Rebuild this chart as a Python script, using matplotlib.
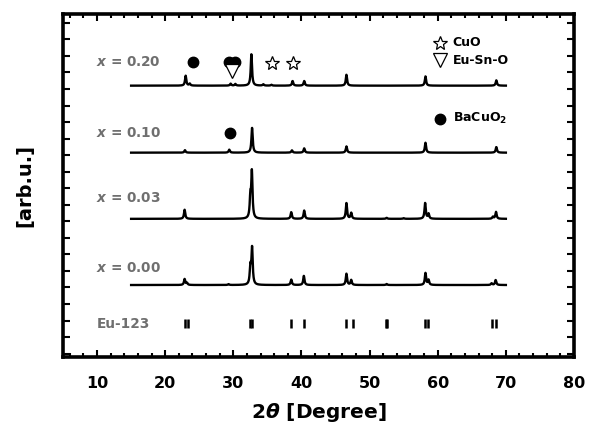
import numpy as np
import matplotlib
matplotlib.use("Agg")
import matplotlib.pyplot as plt
from matplotlib.ticker import MultipleLocator

plt.rcParams['font.family'] = ['DejaVu Sans']
plt.rcParams['font.weight'] = 'bold'
plt.rcParams['mathtext.fontset'] = 'custom'
plt.rcParams['mathtext.rm'] = 'DejaVu Sans:bold'
plt.rcParams['mathtext.it'] = 'DejaVu Sans:italic:bold'
plt.rcParams['mathtext.bf'] = 'DejaVu Sans:bold'

# ---- data ----
sample_labels = ["$x$ = 0.00", "$x$ = 0.03", "$x$ = 0.10", "$x$ = 0.20"]
baselines = [4.15, 8.15, 12.15, 16.2]
label_y = [5.2, 9.4, 13.35, 17.6]

peaks_000 = [22.85, 23.2, 29.3, 32.5, 32.75, 38.5, 40.35, 46.6, 47.3, 52.5, 58.2, 58.65, 67.9, 68.5]
heights_000 = [0.36, 0.12, 0.05, 1.03, 2.2, 0.33, 0.55, 0.68, 0.3, 0.06, 0.72, 0.3, 0.1, 0.3]

peaks_003 = [22.85, 32.5, 32.72, 38.5, 40.4, 46.6, 47.3, 52.5, 55.0, 58.15, 58.65, 68.1, 68.55]
heights_003 = [0.55, 1.2, 2.76, 0.4, 0.5, 0.95, 0.36, 0.06, 0.04, 0.95, 0.3, 0.12, 0.42]

peaks_010 = [22.9, 29.4, 32.75, 38.6, 40.4, 46.6, 58.2, 68.6]
heights_010 = [0.15, 0.18, 1.5, 0.14, 0.26, 0.38, 0.6, 0.34]

peaks_020 = [23.0, 23.6, 29.6, 30.3, 32.65, 34.4, 35.6, 38.7, 40.4, 46.6, 58.2, 68.6]
heights_020 = [0.6, 0.12, 0.12, 0.1, 1.9, 0.08, 0.05, 0.28, 0.28, 0.66, 0.56, 0.32]

peak_sets = [(peaks_000, heights_000), (peaks_003, heights_003),
             (peaks_010, heights_010), (peaks_020, heights_020)]
scan_start, scan_end = 15.0, 70.0

eu123_lines = [22.85, 23.3, 32.45, 32.7, 38.42, 40.37, 46.53, 47.5, 52.45, 52.55,
               58.13, 58.6, 68.0, 68.5]
eu123_range = (1.55, 2.1)

bacuo2_x = [24.1, 29.3, 30.2, 29.5]
bacuo2_y = [17.6, 17.6, 17.6, 13.32]
cuo_x = [35.7, 38.8]
cuo_y = [17.58, 17.58]
eusno_x = [29.75]
eusno_y = [17.1]

# ---- figure ----
fig = plt.figure(figsize=(5.92, 4.30), dpi=100)
ax = fig.add_axes([0.1064, 0.1698, 0.8632, 0.7976])

x = np.linspace(scan_start, scan_end, 4000)
gamma = 0.11
for base, (pk, hh) in zip(baselines, peak_sets):
    y = np.full_like(x, base)
    for p, h in zip(pk, hh):
        y += h / (1 + ((x - p) / gamma) ** 2)
    ax.plot(x, y, color='black', lw=1.7, solid_joinstyle='round')

gray = '#6f6f6f'
for yl, lbl in zip(label_y, sample_labels):
    ax.text(9.9, yl, lbl, color=gray, fontsize=9.8, fontweight='bold',
            ha='left', va='center')
ax.text(9.9, 1.8, "Eu-123", color=gray, fontsize=9.8, fontweight='bold',
        ha='left', va='center')

ax.vlines(eu123_lines, eu123_range[0], eu123_range[1], color='black', lw=1.8)

ax.plot(bacuo2_x, bacuo2_y, 'o', color='black', ms=7.5, ls='none')
ax.plot(cuo_x, cuo_y, '*', mfc='white', mec='black', mew=0.9, ms=10, ls='none')
ax.plot(eusno_x, eusno_y, 'v', mfc='white', mec='black', mew=0.9, ms=9.5, ls='none')

# legend-like annotations
ax.plot([60.3], [18.8], '*', mfc='white', mec='black', mew=0.9, ms=10)
ax.text(62.2, 18.8, "CuO", fontsize=9, fontweight='bold', va='center', ha='left')
ax.plot([60.3], [17.75], 'v', mfc='white', mec='black', mew=0.9, ms=9.5)
ax.text(62.2, 17.75, "Eu-Sn-O", fontsize=9, fontweight='bold', va='center', ha='left')
ax.plot([60.3], [14.2], 'o', color='black', ms=7.5)
ax.text(62.2, 14.2, "BaCuO$_2$", fontsize=9, fontweight='bold', va='center', ha='left')

ax.set_xlim(5, 80)
ax.set_ylim(-0.2, 20.53)
ax.xaxis.set_major_locator(MultipleLocator(10))
ax.xaxis.set_minor_locator(MultipleLocator(2))
ax.yaxis.set_major_locator(MultipleLocator(1))
ax.set_yticklabels([])
ax.tick_params(which='both', direction='in', top=True, right=True, width=1.5)
ax.tick_params(which='major', length=5)
ax.tick_params(which='minor', length=3)
ax.tick_params(axis='x', labelsize=11.5, pad=14)
for s in ax.spines.values():
    s.set_linewidth(2.6)

fig.text(318.5 / 592, 1 - 413 / 430, "2$\\theta$ [Degree]", fontsize=14.5,
         fontweight='bold', ha='center', va='center')
fig.text(25 / 592, 1 - 185.5 / 430, "[arb.u.]", fontsize=14, fontweight='bold',
         rotation=90, ha='center', va='center')

fig.savefig("out.png", dpi=100)
